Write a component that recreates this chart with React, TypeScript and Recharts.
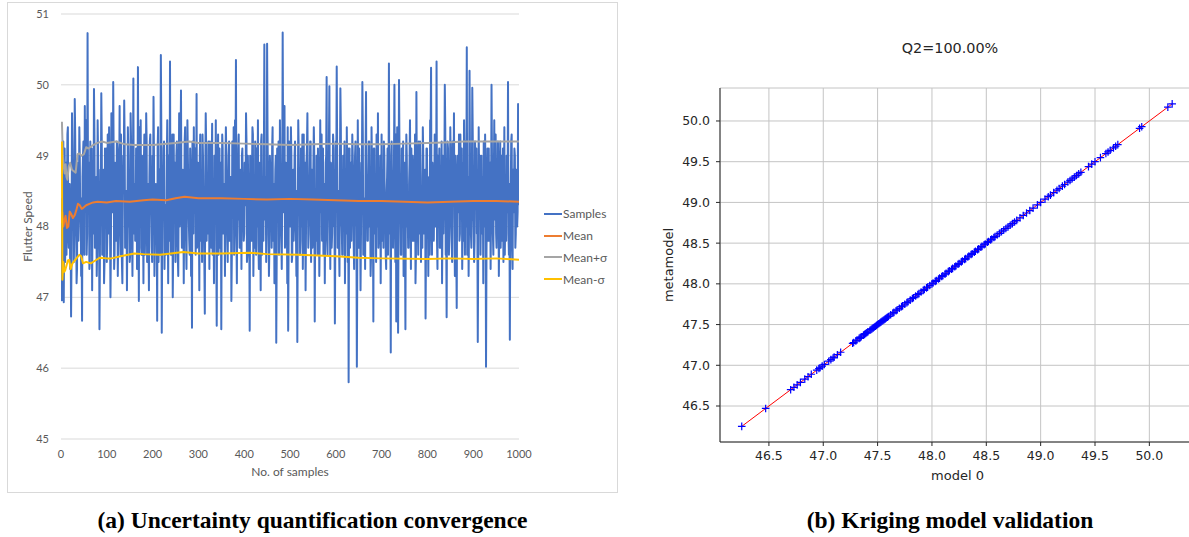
import React from 'react';
import {
  LineChart,
  Line,
  XAxis,
  YAxis,
  CartesianGrid,
  ScatterChart,
  Scatter,
  ReferenceLine,
  Label,
} from 'recharts';

// ---------- (a) Uncertainty quantification convergence ----------
// Flutter speed of the odd-numbered samples (sample no. 1, 3, ..., 999)
const samplesOdd: number[] = [
  48.4, 47.8, 49.2, 48.1, 47.5, 48.9, 48.3, 49.4, 47.7, 48.6,
  48.0, 47.6, 49.1, 48.5, 47.9, 49.3, 48.2, 47.4, 48.8, 48.1,
  49.0, 48.4, 47.8, 48.7, 49.2, 47.6, 48.3, 49.5, 47.9, 48.5,
  48.9, 47.5, 48.2, 49.1, 48.6, 47.9, 49.3, 48.1, 48.7, 47.7,
  49.0, 48.3, 47.6, 48.5, 49.2, 48.0, 48.8, 47.5, 48.4, 49.1,
  47.8, 48.6, 49.4, 48.1, 47.7, 48.9, 48.2, 49.0, 47.6, 48.5,
  48.3, 49.1, 47.9, 48.6, 48.0, 49.3, 47.5, 48.4, 48.8, 49.2,
  47.7, 48.5, 48.1, 49.0, 48.4, 47.6, 49.2, 48.0, 48.7, 47.9,
  48.6, 48.2, 49.1, 47.8, 48.5, 49.4, 48.0, 47.7, 49.0, 48.3,
  48.9, 47.6, 48.4, 49.2, 48.1, 47.9, 48.7, 49.3, 48.2, 47.5,
  48.4, 49.0, 47.8, 48.6, 48.2, 49.1, 47.5, 48.8, 48.3, 49.4,
  47.9, 48.5, 49.2, 48.0, 47.6, 48.9, 48.4, 49.0, 47.8, 48.2,
  48.7, 49.3, 47.7, 48.4, 48.9, 48.1, 49.2, 47.6, 48.5, 48.0,
  49.1, 48.3, 47.9, 48.7, 48.2, 49.4, 47.8, 48.6, 49.0, 48.1,
  47.6, 48.8, 48.4, 49.2, 47.9, 48.5, 49.1, 48.0, 47.7, 48.9,
  48.3, 49.0, 47.8, 48.6, 49.3, 48.2, 47.5, 48.7, 49.1, 48.4,
  47.9, 48.5, 49.2, 48.1, 48.8, 47.6, 48.4, 49.0, 48.2, 47.8,
  48.6, 49.3, 48.0, 47.7, 48.9, 48.3, 49.1, 47.9, 48.5, 48.8,
  49.0, 47.8, 48.4, 49.2, 48.1, 48.7, 47.6, 48.3, 49.4, 48.0,
  48.5, 47.9, 48.8, 49.1, 48.2, 47.7, 48.6, 49.0, 48.4, 47.8,
  48.9, 48.3, 49.2, 47.6, 48.5, 48.1, 49.0, 47.9, 48.7, 49.3,
  48.0, 47.7, 48.6, 49.1, 48.4, 47.8, 48.9, 48.2, 49.2, 47.6,
  48.4, 49.0, 48.1, 48.7, 47.9, 49.3, 48.5, 47.7, 48.8, 48.2,
  49.1, 47.8, 48.6, 48.3, 49.0, 47.6, 48.4, 49.2, 48.0, 48.7,
  47.9, 48.5, 49.1, 48.2, 47.7, 48.9, 48.4, 49.4, 47.8, 48.6,
  48.3, 49.0, 47.6, 48.8, 48.1, 49.2, 47.9, 48.5, 48.0, 49.1,
  48.7, 47.8, 48.4, 49.3, 48.2, 47.6, 48.9, 48.0, 49.1, 48.5,
  47.9, 48.6, 49.2, 48.3, 47.7, 48.8, 49.0, 48.1, 47.8, 48.4,
  49.1, 48.5, 47.9, 48.7, 49.3, 48.0, 47.6, 48.6, 48.2, 49.0,
  47.8, 48.4, 49.2, 48.1, 48.9, 47.7, 48.5, 49.1, 48.3, 47.9,
  48.6, 49.0, 48.2, 47.8, 48.8, 49.4, 48.0, 47.6, 48.5, 49.2,
  48.1, 47.9, 48.7, 49.1, 48.3, 47.7, 48.9, 48.4, 49.0, 47.8,
  48.5, 49.2, 48.0, 47.6, 48.6, 49.1, 48.2, 47.9, 48.8, 49.3,
  47.7, 48.4, 49.0, 48.1, 47.8, 48.7, 49.2, 48.3, 47.6, 48.9,
  48.2, 49.1, 47.9, 48.5, 49.3, 48.0, 47.7, 48.6, 49.0, 48.4,
  47.8, 48.8, 49.2, 48.1, 47.6, 48.5, 49.1, 48.3, 47.9, 48.7,
  49.0, 48.2, 47.7, 48.9, 48.4, 49.3, 47.8, 48.6, 48.1, 49.1,
  48.3, 47.6, 48.8, 49.2, 48.0, 47.9, 48.5, 49.0, 48.2, 47.7,
  48.9, 48.4, 49.1, 47.8, 48.6, 48.1, 49.3, 47.6, 48.5, 48.0,
  49.2, 47.9, 48.7, 48.3, 47.7, 49.0, 48.4, 48.8, 47.8, 49.1,
  48.2, 48.6, 47.6, 49.3, 48.0, 48.9, 47.9, 48.5, 49.1, 48.3,
  47.8, 49.0, 48.4, 47.7, 48.8, 49.2, 48.1, 47.9, 48.6, 49.4,
  48.0, 48.5, 49.1, 47.6, 48.3, 48.9, 47.8, 49.2, 48.4, 48.1,
  49.0, 47.7, 48.6, 48.2, 49.3, 47.9, 48.5, 49.1, 48.0, 47.8,
  48.8, 49.2, 48.3, 47.6, 48.7, 48.1, 49.0, 47.9, 48.4, 49.3,
  48.1, 47.8, 48.9, 49.1, 48.2, 47.7, 48.6, 49.0, 48.3, 47.9,
  48.7, 49.2, 48.0, 48.5, 47.6, 49.1, 48.4, 47.8, 48.9, 48.2,
  49.0, 47.9, 48.6, 48.1, 49.3, 47.7, 48.5, 48.8, 48.0, 49.2,
  48.4, 47.8, 49.1, 48.3, 47.6, 48.7, 49.0, 48.2, 47.9, 48.6,
  48.1, 49.2, 47.7, 48.8, 48.4, 49.0, 47.9, 48.5, 48.2, 48.4,
];
// Flutter speed of the even-numbered samples (sample no. 2, 4, ..., 1000)
const samplesEven: number[] = [
  46.96, 48.9, 46.93, 49.1, 48.2, 47.6, 49.3, 47.9, 48.6, 47.4,
  46.73, 49.6, 48.0, 47.5, 49.8, 48.3, 47.2, 48.9, 47.8, 49.4,
  48.1, 47.3, 46.67, 49.0, 47.9, 49.7, 48.4, 47.6, 50.73, 48.2,
  47.4, 49.2, 48.0, 47.1, 48.7, 49.94, 47.7, 48.5, 47.3, 49.5,
  48.2, 46.55, 48.8, 49.88, 47.6, 48.4, 47.2, 49.1, 48.0, 47.5,
  49.3, 47.9, 48.6, 47.0, 49.6, 48.3, 50.04, 47.4, 48.9, 47.8,
  49.2, 47.3, 48.5, 49.7, 47.6, 48.1, 47.2, 49.0, 49.78, 47.7,
  48.4, 47.1, 49.4, 48.0, 47.5, 49.6, 48.7, 47.3, 50.09, 48.2,
  47.8, 49.1, 47.4, 50.25, 46.95, 48.8, 49.5, 47.6, 48.3, 47.2,
  49.3, 48.0, 49.6, 47.5, 48.6, 47.1, 49.2, 48.4, 47.7, 49.0,
  49.83, 47.3, 48.5, 47.9, 46.67, 49.4, 48.1, 47.6, 50.42, 46.5,
  48.7, 49.1, 47.4, 48.3, 47.8, 49.5, 47.2, 48.9, 50.33, 47.6,
  48.2, 47.0, 49.3, 48.6, 47.5, 49.0, 48.1, 47.3, 49.6, 48.4,
  49.92, 47.7, 48.8, 47.2, 49.2, 48.0, 47.4, 49.5, 48.5, 47.8,
  49.1, 47.3, 46.57, 48.7, 49.4, 48.2, 47.6, 49.87, 47.9, 48.4,
  47.1, 49.3, 48.6, 47.5, 49.0, 48.1, 46.77, 49.6, 47.8, 48.3,
  49.2, 47.4, 48.9, 47.7, 49.45, 48.0, 47.2, 48.5, 49.5, 46.6,
  48.8, 47.6, 49.1, 48.3, 46.55, 49.3, 47.9, 48.6, 47.3, 49.4,
  48.2, 47.5, 49.0, 47.8, 48.7, 46.95, 49.2, 48.4, 47.6, 49.5,
  50.35, 47.2, 48.1, 49.3, 47.7, 48.8, 47.4, 49.1, 48.3, 47.9,
  48.6, 49.6, 47.5, 49.0, 48.2, 46.53, 48.9, 47.8, 49.4, 47.3,
  48.5, 49.2, 47.6, 48.0, 49.5, 47.4, 48.7, 47.1, 49.3, 48.4,
  47.8, 50.57, 48.1, 47.5, 50.58, 48.6, 47.3, 49.0, 48.3, 47.7,
  49.4, 48.0, 47.2, 48.8, 46.36, 49.1, 48.5, 47.6, 49.5, 48.2,
  47.4, 50.74, 48.3, 49.7, 47.9, 48.6, 47.2, 46.53, 49.2, 48.0,
  49.4, 47.5, 48.7, 47.8, 49.0, 48.2, 47.3, 46.37, 49.5, 48.4,
  47.6, 49.1, 48.0, 47.4, 49.3, 48.5, 47.1, 48.9, 49.6, 47.7,
  48.3, 49.2, 47.5, 48.8, 47.9, 49.4, 46.66, 48.1, 49.0, 47.6,
  48.6, 47.3, 49.5, 48.2, 47.8, 49.1, 48.4, 47.2, 48.9, 50.11,
  47.6, 48.3, 49.98, 47.4, 48.7, 47.9, 49.3, 48.0, 46.63, 49.2,
  50.26, 47.7, 48.5, 47.3, 49.95, 48.1, 47.6, 49.0, 48.4, 47.2,
  48.8, 49.4, 47.5, 45.8, 49.1, 48.2, 47.8, 49.3, 48.6, 47.4,
  49.0, 48.3, 46.02, 49.5, 47.7, 48.4, 47.1, 48.9, 50.04, 47.6,
  48.2, 47.4, 49.9, 48.5, 47.8, 49.2, 48.0, 47.3, 49.4, 48.6,
  46.66, 49.1, 48.3, 47.5, 48.8, 49.6, 47.9, 48.1, 47.2, 49.3,
  48.4, 47.7, 49.0, 48.2, 47.4, 48.7, 47.6, 50.3, 48.5, 46.22,
  49.2, 47.8, 48.3, 50.0, 47.5, 46.66, 49.4, 46.5, 50.07, 48.1,
  47.6, 49.1, 48.4, 47.3, 48.9, 46.55, 49.3, 48.0, 47.7, 48.6,
  49.5, 47.4, 48.2, 49.0, 47.8, 48.5, 47.2, 49.9, 48.3, 47.6,
  48.8, 49.2, 47.5, 48.1, 49.4, 47.9, 48.6, 46.7, 49.1, 48.4,
  47.3, 48.7, 49.5, 50.24, 47.6, 48.2, 47.8, 49.3, 48.0, 50.33,
  47.4, 48.9, 49.1, 47.7, 48.4, 47.2, 49.0, 48.5, 50.0, 47.6,
  46.72, 49.2, 48.1, 47.9, 49.4, 48.3, 47.5, 48.8, 49.6, 47.3,
  48.6, 46.85, 49.0, 48.2, 47.8, 49.3, 48.4, 47.4, 48.9, 49.5,
  47.6, 48.0, 50.53, 48.7, 47.3, 50.2, 48.3, 47.7, 49.96, 48.1,
  47.5, 49.2, 48.6, 47.9, 46.37, 49.4, 48.2, 47.6, 49.0, 48.5,
  47.2, 48.8, 49.3, 46.02, 48.4, 47.8, 49.1, 48.0, 47.4, 50.0,
  48.3, 47.6, 49.5, 48.7, 47.9, 48.2, 49.2, 47.3, 48.6, 47.7,
  49.0, 48.4, 47.5, 49.4, 48.1, 47.8, 48.9, 50.04, 47.6, 46.4,
  48.5, 49.3, 47.4, 48.2, 49.1, 47.7, 48.8, 48.0, 49.73, 48.3,
];

// [sample no., value]
const meanCurve: [number, number][] = [
  [1, 48.05], [3, 48.2], [5, 48.0], [8, 48.1], [10, 48.15], [13, 47.98], [16, 48.0],
  [19, 48.21], [22, 48.18], [26, 48.12], [30, 48.16], [33, 48.22], [37, 48.32], [41, 48.3],
  [45, 48.25], [48, 48.26], [55, 48.3], [62, 48.32], [70, 48.34], [80, 48.35], [100, 48.34],
  [120, 48.36], [150, 48.35], [180, 48.37], [200, 48.38], [230, 48.37], [250, 48.4],
  [270, 48.42], [300, 48.4], [350, 48.4], [400, 48.39], [450, 48.38], [500, 48.39],
  [550, 48.38], [600, 48.37], [650, 48.36], [700, 48.36], [750, 48.35], [800, 48.34],
  [850, 48.35], [900, 48.36], [950, 48.36], [1000, 48.35],
];
const meanPlusSigmaCurve: [number, number][] = [
  [2, 49.48], [4, 49.0], [6, 48.85], [8, 48.75], [10, 48.88], [12, 48.7], [14, 48.66],
  [17, 48.85], [20, 48.9], [24, 48.8], [28, 48.78], [32, 48.76], [36, 49.02], [40, 49.03],
  [45, 49.0], [50, 49.02], [55, 49.12], [60, 49.1], [70, 49.15], [80, 49.18], [90, 49.2],
  [100, 49.18], [120, 49.2], [140, 49.16], [160, 49.15], [200, 49.15], [250, 49.18],
  [280, 49.2], [300, 49.18], [350, 49.18], [400, 49.17], [450, 49.16], [500, 49.15],
  [550, 49.16], [600, 49.17], [650, 49.16], [700, 49.16], [750, 49.17], [800, 49.18],
  [850, 49.19], [880, 49.2], [900, 49.2], [950, 49.2], [1000, 49.2],
];
const meanMinusSigmaCurve: [number, number][] = [
  [2, 49.2], [3, 47.25], [5, 47.5], [7, 47.36], [9, 47.38], [12, 47.45], [15, 47.52],
  [18, 47.53], [21, 47.4], [25, 47.48], [30, 47.52], [35, 47.56], [40, 47.6], [44, 47.58],
  [48, 47.48], [55, 47.5], [65, 47.48], [75, 47.52], [85, 47.56], [100, 47.55], [110, 47.55],
  [130, 47.58], [160, 47.62], [180, 47.61], [216, 47.6], [240, 47.62], [267, 47.64],
  [300, 47.62], [350, 47.62], [413, 47.63], [450, 47.61], [520, 47.6], [600, 47.58],
  [650, 47.56], [700, 47.55], [800, 47.54], [850, 47.55], [900, 47.54], [950, 47.55],
  [1000, 47.53],
];

const sampleTicks = [0, 100, 200, 300, 400, 500, 600, 700, 800, 900, 1000];
const speedTicks = [45, 46, 47, 48, 49, 50, 51];
const seriesNames = ['Samples', 'Mean', 'Mean+σ', 'Mean-σ'];

// ---------- (b) Kriging model validation ----------
const modelOutputs: number[] = [
  46.25, 46.47, 46.7, 46.73, 46.76, 46.79, 46.83, 46.86, 46.89, 46.94,
  46.96, 46.97, 46.99, 47.01, 47.05, 47.07, 47.09, 47.1, 47.13, 47.16,
  47.27, 47.28, 47.3, 47.31, 47.33, 47.34, 47.35, 47.37, 47.38, 47.39,
  47.4, 47.41, 47.43, 47.44, 47.45, 47.46, 47.47, 47.48, 47.49, 47.5,
  47.51, 47.52, 47.53, 47.54, 47.55, 47.56, 47.57, 47.58, 47.59, 47.6,
  47.62, 47.64, 47.65, 47.67, 47.68, 47.7, 47.72, 47.73, 47.75, 47.77,
  47.78, 47.8, 47.82, 47.83, 47.85, 47.87, 47.88, 47.9, 47.92, 47.93,
  47.95, 47.96, 47.98, 48.0, 48.01, 48.03, 48.04, 48.06, 48.07, 48.09,
  48.1, 48.12, 48.13, 48.15, 48.16, 48.18, 48.19, 48.21, 48.22, 48.24,
  48.25, 48.27, 48.28, 48.3, 48.31, 48.33, 48.34, 48.36, 48.37, 48.39,
  48.4, 48.42, 48.43, 48.45, 48.46, 48.48, 48.49, 48.51, 48.52, 48.54,
  48.55, 48.57, 48.58, 48.6, 48.62, 48.64, 48.66, 48.68, 48.7, 48.72,
  48.74, 48.76, 48.78, 48.81, 48.84, 48.87, 48.9, 48.93, 48.97, 49.0,
  49.04, 49.07, 49.09, 49.12, 49.15, 49.17, 49.2, 49.22, 49.25, 49.27,
  49.29, 49.31, 49.33, 49.35, 49.37, 49.44, 49.47, 49.5, 49.55, 49.6,
  49.62, 49.64, 49.67, 49.69, 49.71, 49.91, 49.93, 50.17, 50.21,
];
// Q2 = 100 %: the metamodel reproduces the model outputs
const metamodelOutputs: number[] = [...modelOutputs];
const validationTicks = [46.5, 47.0, 47.5, 48.0, 48.5, 49.0, 49.5, 50.0];

// ---------- styling ----------
const EXCEL_COLORS = ['#4472C4', '#ED7D31', '#A5A5A5', '#FFC000'];
const EXCEL_TEXT = '#595959';
const EXCEL_FONT = 'Lato, "Open Sans", sans-serif';
const MPL_FONT = '"DejaVu Sans", sans-serif';
const MPL_TEXT = '#262626';

const samplePoints = samplesEven.flatMap((even, i) => [
  { n: 2 * i + 1, v: samplesOdd[i] },
  { n: 2 * i + 2, v: even },
]);
const toPoints = (c: [number, number][]) => c.map(([n, v]) => ({ n, v }));
const curves = [samplePoints, toPoints(meanCurve), toPoints(meanPlusSigmaCurve), toPoints(meanMinusSigmaCurve)];

const validationPoints = modelOutputs.map((x, i) => ({ x, y: metamodelOutputs[i] }));
const vMin = Math.min(...modelOutputs);
const vMax = Math.max(...modelOutputs);

const PlusMarker = (props: any) => {
  const { cx, cy } = props;
  if (cx == null || cy == null) return null;
  return (
    <path
      d={`M${cx - 3.8},${cy}H${cx + 3.8}M${cx},${cy - 3.8}V${cy + 3.8}`}
      stroke="#0000ff"
      strokeWidth={1.2}
      fill="none"
    />
  );
};

export default function App() {
  return (
    <div
      style={{
        position: 'absolute',
        left: 0,
        top: 0,
        width: 1189,
        height: 537,
        overflow: 'hidden',
        background: '#fff',
      }}
    >
      {/* chart (a) frame */}
      <div
        style={{
          position: 'absolute',
          left: 7,
          top: 2,
          width: 611,
          height: 491,
          border: '1px solid #d9d9d9',
          boxSizing: 'border-box',
        }}
      />
      <div style={{ position: 'absolute', left: 7, top: 2 }}>
        <LineChart width={611} height={491} margin={{ top: 12, right: 99, bottom: 0, left: 0 }}>
          <CartesianGrid horizontal vertical={false} stroke="#d9d9d9" strokeWidth={1} />
          <XAxis
            type="number"
            dataKey="n"
            domain={[0, 1000]}
            ticks={sampleTicks}
            allowDataOverflow
            height={54}
            axisLine={false}
            tickLine={false}
            tickSize={6}
            tickMargin={5}
            tick={{ fill: EXCEL_TEXT, fontSize: 11, fontFamily: EXCEL_FONT }}
          >
            <Label
              content={(p: any) => {
                const vb = p.viewBox || {};
                return (
                  <text
                    x={vb.x + vb.width / 2}
                    y={vb.y + 37}
                    textAnchor="middle"
                    fill={EXCEL_TEXT}
                    fontSize={12}
                    fontFamily={EXCEL_FONT}
                  >
                    No. of samples
                  </text>
                );
              }}
            />
          </XAxis>
          <YAxis
            type="number"
            domain={[45, 51]}
            ticks={speedTicks}
            allowDataOverflow
            width={54}
            axisLine={false}
            tickLine={false}
            tickSize={6}
            tickMargin={6}
            tick={{ fill: EXCEL_TEXT, fontSize: 11, fontFamily: EXCEL_FONT }}
          >
            <Label
              content={(p: any) => {
                const vb = p.viewBox || {};
                const cx = vb.x + 20.5;
                const cy = vb.y + vb.height / 2;
                return (
                  <text
                    x={cx}
                    y={cy}
                    transform={`rotate(-90 ${cx} ${cy})`}
                    textAnchor="middle"
                    dominantBaseline="central"
                    fill={EXCEL_TEXT}
                    fontSize={12}
                    fontFamily={EXCEL_FONT}
                  >
                    Flutter Speed
                  </text>
                );
              }}
            />
          </YAxis>
          {curves.map((data, i) => (
            <Line
              key={seriesNames[i]}
              data={data}
              dataKey="v"
              name={seriesNames[i]}
              stroke={EXCEL_COLORS[i]}
              strokeWidth={2}
              strokeLinejoin="round"
              dot={false}
              activeDot={false}
              isAnimationActive={false}
              type="linear"
            />
          ))}
        </LineChart>
      </div>
      {/* legend (a) */}
      <div style={{ position: 'absolute', left: 544, top: 203, fontFamily: EXCEL_FONT, fontSize: 12, color: EXCEL_TEXT }}>
        {seriesNames.map((name, i) => (
          <div key={name} style={{ display: 'flex', alignItems: 'center', height: 21.8, whiteSpace: 'nowrap' }}>
            <span style={{ display: 'inline-block', width: 18, height: 2, background: EXCEL_COLORS[i], marginRight: 1 }} />
            <span>{name}</span>
          </div>
        ))}
      </div>

      {/* chart (b) */}
      <div
        style={{
          position: 'absolute',
          left: 897,
          top: 38,
          width: 106,
          textAlign: 'center',
          fontFamily: MPL_FONT,
          fontSize: 14.4,
          lineHeight: '20px',
          color: MPL_TEXT,
          whiteSpace: 'nowrap',
        }}
      >
        Q2=100.00%
      </div>
      <div style={{ position: 'absolute', left: 640, top: 20 }}>
        <ScatterChart width={560} height={480} margin={{ top: 68, right: 5, bottom: 0, left: 0 }}>
          <CartesianGrid stroke="#c4c4c4" strokeWidth={1} />
          <XAxis
            type="number"
            dataKey="x"
            domain={[46.05, 50.42]}
            ticks={validationTicks}
            allowDataOverflow
            height={58}
            axisLine={{ stroke: MPL_TEXT, strokeWidth: 1 }}
            tickLine={{ stroke: MPL_TEXT, strokeWidth: 1 }}
            tickSize={4}
            tickMargin={5}
            tickFormatter={(v: number) => v.toFixed(1)}
            tick={{ fill: MPL_TEXT, fontSize: 12.5, fontFamily: MPL_FONT }}
          >
            <Label
              content={(p: any) => {
                const vb = p.viewBox || {};
                return (
                  <text
                    x={vb.x + vb.width / 2}
                    y={vb.y + 38}
                    textAnchor="middle"
                    fill={MPL_TEXT}
                    fontSize={13}
                    fontFamily={MPL_FONT}
                  >
                    model 0
                  </text>
                );
              }}
            />
          </XAxis>
          <YAxis
            type="number"
            dataKey="y"
            domain={[46.058, 50.405]}
            ticks={validationTicks}
            allowDataOverflow
            width={80}
            axisLine={{ stroke: MPL_TEXT, strokeWidth: 1 }}
            tickLine={{ stroke: MPL_TEXT, strokeWidth: 1 }}
            tickSize={4}
            tickMargin={6}
            tickFormatter={(v: number) => v.toFixed(1)}
            tick={{ fill: MPL_TEXT, fontSize: 12.5, fontFamily: MPL_FONT }}
          >
            <Label
              content={(p: any) => {
                const vb = p.viewBox || {};
                const cx = vb.x + 28;
                const cy = vb.y + vb.height / 2;
                return (
                  <text
                    x={cx}
                    y={cy}
                    transform={`rotate(-90 ${cx} ${cy})`}
                    textAnchor="middle"
                    dominantBaseline="central"
                    fill={MPL_TEXT}
                    fontSize={13}
                    fontFamily={MPL_FONT}
                  >
                    metamodel
                  </text>
                );
              }}
            />
          </YAxis>
          <Scatter
            data={validationPoints}
            shape={PlusMarker}
            isAnimationActive={false}
          />
          <ReferenceLine
            segment={[
              { x: vMin, y: vMin },
              { x: vMax, y: vMax },
            ]}
            stroke="#ff0000"
            strokeWidth={1}
            ifOverflow="visible"
          />
        </ScatterChart>
      </div>

      {/* captions */}
      <div
        style={{
          position: 'absolute',
          left: 7,
          width: 611,
          top: 507,
          textAlign: 'center',
          fontFamily: '"Liberation Serif", "Times New Roman", serif',
          fontWeight: 'bold',
          fontSize: 23.5,
          lineHeight: '26px',
          color: '#000',
          whiteSpace: 'nowrap',
        }}
      >
        (a) Uncertainty quantification convergence
      </div>
      <div
        style={{
          position: 'absolute',
          left: 750,
          width: 400,
          top: 507,
          textAlign: 'center',
          fontFamily: '"Liberation Serif", "Times New Roman", serif',
          fontWeight: 'bold',
          fontSize: 23.5,
          lineHeight: '26px',
          color: '#000',
          whiteSpace: 'nowrap',
        }}
      >
        (b) Kriging model validation
      </div>
    </div>
  );
}
